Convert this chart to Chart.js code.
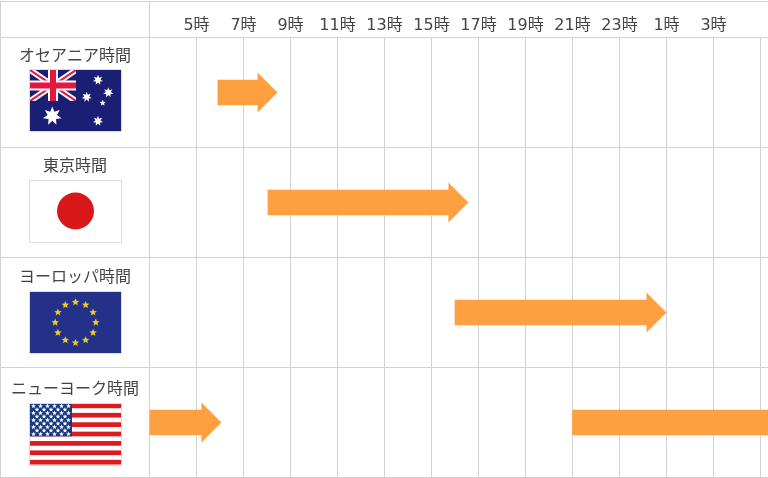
<!DOCTYPE html>
<html lang="ja">
<head>
<meta charset="utf-8">
<style>
  html, body { margin: 0; padding: 0; background: #fff; }
  canvas { display: block; }
</style>
<script src="https://cdn.jsdelivr.net/npm/chart.js@4/dist/chart.umd.min.js"></script>
</head>
<body>
<canvas id="sessions" width="768" height="478"></canvas>
<script>
const regions = ['オセアニア時間', '東京時間', 'ヨーロッパ時間', 'ニューヨーク時間'];
const tickHours = [3, 5, 7, 9, 11, 13, 15, 17, 19, 21, 23, 25, 27, 29];
const tickLabels = ['', '5時', '7時', '9時', '11時', '13時', '15時', '17時', '19時', '21時', '23時', '1時', '3時', ''];
// hours run past 24 so the axis can wrap round to 1時 and 3時
const sessions = [[5.91, 7.62], [8.04, 15.74], [16, 24.17], [3, 5.23]];
const lateSessions = [null, null, null, [21, 29.32]];

const GRID = '#d2d2d2';
const ORANGE = '#ffa040';
const TEXT = '#444';
const FONT = "'DejaVu Sans', 'Noto Sans CJK JP', sans-serif";

function star(ctx, cx, cy, r, points, inner, color) {
  ctx.fillStyle = color;
  ctx.beginPath();
  for (let i = 0; i < points * 2; i++) {
    const rad = i % 2 ? r * inner : r;
    const a = -Math.PI / 2 + i * Math.PI / points;
    ctx.lineTo(cx + Math.cos(a) * rad, cy + Math.sin(a) * rad);
  }
  ctx.closePath();
  ctx.fill();
}

function jackLine(ctx, x1, y1, x2, y2, w, color) {
  ctx.strokeStyle = color;
  ctx.lineWidth = w;
  ctx.beginPath();
  ctx.moveTo(x1, y1);
  ctx.lineTo(x2, y2);
  ctx.stroke();
}

function australia(ctx, x, y, w, h) {
  ctx.fillStyle = '#1a1f73';
  ctx.fillRect(x, y, w, h);
  const cw = 46, ch = 31;
  ctx.save();
  ctx.beginPath();
  ctx.rect(x, y, cw, ch);
  ctx.clip();
  jackLine(ctx, x, y, x + cw, y + ch, 6, '#fff');
  jackLine(ctx, x + cw, y, x, y + ch, 6, '#fff');
  jackLine(ctx, x, y, x + cw, y + ch, 2, '#e4173e');
  jackLine(ctx, x + cw, y, x, y + ch, 2, '#e4173e');
  jackLine(ctx, x + cw / 2, y, x + cw / 2, y + ch, 10, '#fff');
  jackLine(ctx, x, y + ch / 2, x + cw, y + ch / 2, 10, '#fff');
  jackLine(ctx, x + cw / 2, y, x + cw / 2, y + ch, 6, '#e4173e');
  jackLine(ctx, x, y + ch / 2, x + cw, y + ch / 2, 6, '#e4173e');
  ctx.restore();
  star(ctx, x + 68, y + 10, 5.2, 7, 0.5, '#fff');
  star(ctx, x + 78.3, y + 22.5, 5.2, 7, 0.5, '#fff');
  star(ctx, x + 56.7, y + 27, 5.2, 7, 0.5, '#fff');
  star(ctx, x + 72.7, y + 33, 3.2, 5, 0.45, '#fff');
  star(ctx, x + 68, y + 51, 5.2, 7, 0.5, '#fff');
  star(ctx, x + 22.3, y + 46, 9.6, 7, 0.5, '#fff');
}

function japan(ctx, x, y, w, h) {
  ctx.fillStyle = '#fff';
  ctx.fillRect(x, y, w, h);
  ctx.fillStyle = '#d8171b';
  ctx.beginPath();
  ctx.arc(x + w / 2, y + h / 2, 18.5, 0, Math.PI * 2);
  ctx.fill();
}

function europe(ctx, x, y, w, h) {
  ctx.fillStyle = '#233288';
  ctx.fillRect(x, y, w, h);
  for (let i = 0; i < 12; i++) {
    const a = i * Math.PI / 6;
    star(ctx, x + w / 2 + Math.sin(a) * 20.3, y + h / 2 - Math.cos(a) * 20.3, 3.9, 5, 0.45, '#f4c724');
  }
}

function usa(ctx, x, y, w, h) {
  ctx.fillStyle = '#fff';
  ctx.fillRect(x, y, w, h);
  ctx.fillStyle = '#dc1a1f';
  const sh = h / 13;
  for (let i = 0; i < 13; i += 2) ctx.fillRect(x, y + i * sh, w, sh);
  const cw = 42, ch = sh * 7;
  ctx.fillStyle = '#17397f';
  ctx.fillRect(x, y, cw, ch);
  for (let row = 0; row < 9; row++) {
    const count = row % 2 ? 5 : 6;
    for (let col = 0; col < count; col++) {
      const sx = x + 3.5 + (row % 2 ? 3.5 : 0) + col * 7;
      star(ctx, sx, y + 2.6 + row * 3.5, 2.5, 5, 0.45, '#fff');
    }
  }
}

const flags = [australia, japan, europe, usa];
const flagTop = [32.5, 33, 34.5, 36];
const labelTop = [19, 19.5, 20.5, 22.5];

const tableFrame = {
  id: 'tableFrame',
  beforeDatasetsDraw(chart) {
    const { ctx, chartArea, scales } = chart;
    ctx.save();
    ctx.strokeStyle = GRID;
    ctx.lineWidth = 1;
    ctx.beginPath();
    ctx.moveTo(0, 1.5); ctx.lineTo(768, 1.5);
    ctx.moveTo(0.5, 1); ctx.lineTo(0.5, 478);
    const left = scales.x.getPixelForValue(tickHours[0]);
    ctx.moveTo(left, 1); ctx.lineTo(left, chartArea.top);
    regions.forEach((r, i) => {
      const edge = scales.y.getPixelForValue(i) - 55;
      ctx.moveTo(0, edge); ctx.lineTo(left, edge);
    });
    ctx.moveTo(0, chartArea.bottom); ctx.lineTo(left, chartArea.bottom);
    ctx.stroke();
    ctx.restore();
  },
  afterDraw(chart) {
    const { ctx, scales } = chart;
    ctx.save();
    ctx.font = '16px ' + FONT;
    ctx.textAlign = 'center';
    ctx.textBaseline = 'middle';
    regions.forEach((name, i) => {
      const rowTop = scales.y.getPixelForValue(i) - 55;
      ctx.fillStyle = TEXT;
      ctx.fillText(name, 75, rowTop + labelTop[i]);
      const fx = 30, fy = rowTop + flagTop[i], fw = 91, fh = 61;
      flags[i](ctx, fx, fy, fw, fh);
      ctx.strokeStyle = '#dcdce4';
      ctx.lineWidth = 1;
      ctx.strokeRect(fx - 0.5, Math.round(fy) - 0.5, fw + 1, fh + 1);
    });
    ctx.restore();
  }
};

const arrowHeads = {
  id: 'arrowHeads',
  afterDatasetsDraw(chart) {
    const { ctx } = chart;
    chart.data.datasets.forEach((ds, d) => {
      if (!ds.arrowHead) return;
      chart.getDatasetMeta(d).data.forEach(bar => {
        ctx.fillStyle = ORANGE;
        ctx.beginPath();
        ctx.moveTo(bar.x - 0.5, bar.y - 20);
        ctx.lineTo(bar.x + 19.5, bar.y);
        ctx.lineTo(bar.x - 0.5, bar.y + 20);
        ctx.closePath();
        ctx.fill();
      });
    });
  }
};

new Chart(document.getElementById('sessions'), {
  type: 'bar',
  data: {
    labels: regions,
    datasets: [
      { data: sessions, backgroundColor: ORANGE, barThickness: 25, arrowHead: true },
      { data: lateSessions, backgroundColor: ORANGE, barThickness: 25 }
    ]
  },
  options: {
    indexAxis: 'y',
    responsive: false,
    animation: false,
    devicePixelRatio: 1,
    layout: { padding: { top: 0, right: 0, bottom: 0.5, left: 0 } },
    plugins: { legend: { display: false }, title: { display: false }, tooltip: { enabled: false } },
    datasets: { bar: { grouped: false } },
    scales: {
      x: {
        position: 'top',
        min: 3,
        max: 29.32,
        afterFit(axis) { axis.height = 37.5; },
        afterBuildTicks(axis) { axis.ticks = tickHours.map(value => ({ value })); },
        grid: { color: GRID, drawTicks: false },
        border: { display: false },
        ticks: {
          autoSkip: false,
          maxRotation: 0,
          padding: 2,
          color: TEXT,
          font: { family: FONT, size: 16 },
          callback: value => tickLabels[tickHours.indexOf(value)]
        }
      },
      y: {
        afterFit(axis) { axis.width = 149.5; },
        grid: { color: GRID, drawTicks: false },
        border: { display: false },
        ticks: { display: false }
      }
    }
  },
  plugins: [tableFrame, arrowHeads]
});
</script>
</body>
</html>
